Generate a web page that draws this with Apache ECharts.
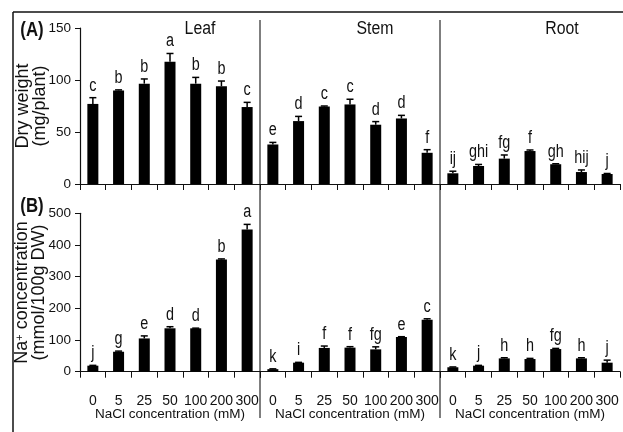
<!DOCTYPE html>
<html><head><meta charset="utf-8">
<script src="https://cdn.jsdelivr.net/npm/echarts@6/dist/echarts.min.js"></script>
<style>html,body{margin:0;padding:0;background:#fff}#c{width:623px;height:432px}</style>
</head><body><div id="c"></div>
<script>
const categories = ['0','5','25','50','100','200','300'];
const organs = ['Leaf','Stem','Root'];

const dwLeaf = [77, 90, 96.5, 117.5, 96.5, 94, 74];
const dwLeafErr = [6, 0.5, 4.5, 8, 6, 5, 4.5];
const dwLeafSig = ['c','b','b','a','b','b','c'];
const dwStem = [38, 60.5, 74.5, 76.5, 57, 63, 30];
const dwStemErr = [2, 4.5, 0.5, 5, 3, 3, 3];
const dwStemSig = ['e','d','c','c','d','d','f'];
const dwRoot = [10.3, 17.3, 24.4, 31.7, 19, 11.5, 9.6];
const dwRootErr = [2, 1.5, 3.5, 1, 0.5, 2, 0.5];
const dwRootSig = ['ij','ghi','fg','f','gh','hij','j'];

const naLeaf = [19, 63, 105, 137, 137, 354, 449];
const naLeafErr = [1, 2, 8, 5, 0.5, 2, 16];
const naLeafSig = ['j','g','e','d','d','b','a'];
const naStem = [8, 28.5, 75, 76, 70.5, 109.5, 164];
const naStemErr = [1, 1, 6, 3, 8, 1, 3];
const naStemSig = ['k','i','f','f','fg','e','c'];
const naRoot = [14, 19, 42, 40, 71.5, 42, 28.5];
const naRootErr = [1, 1, 2, 2, 2, 2, 8];
const naRootSig = ['k','j','h','h','fg','h','j'];

const SANS = '"Liberation Sans", Arial, sans-serif';

const panels = [
  {vals: dwLeaf, err: dwLeafErr, sig: dwLeafSig, row: 0, col: 0},
  {vals: dwStem, err: dwStemErr, sig: dwStemSig, row: 0, col: 1},
  {vals: dwRoot, err: dwRootErr, sig: dwRootSig, row: 0, col: 2},
  {vals: naLeaf, err: naLeafErr, sig: naLeafSig, row: 1, col: 0},
  {vals: naStem, err: naStemErr, sig: naStemSig, row: 1, col: 1},
  {vals: naRoot, err: naRootErr, sig: naRootSig, row: 1, col: 2}
];

const rowGeom = [{top: 28, height: 156, max: 150, interval: 50, gap: 31}, {top: 213.3, height: 158.4, max: 500, interval: 100, gap: 32}];
const colLeft = [80, 260, 440];
const colW = 180;

const grid = [], xAxis = [], yAxis = [], series = [];
panels.forEach((p, k) => {
  const rg = rowGeom[p.row];
  grid.push({left: colLeft[p.col], top: rg.top, width: colW, height: rg.height, containLabel: false});
  xAxis.push({
    type: 'category', gridIndex: k, data: categories,
    axisLine: {lineStyle: {color: '#111', width: 1.2}},
    axisTick: {show: true, length: 6, inside: false, lineStyle: {color: '#111'}},
    axisLabel: {show: p.row === 1, interval: 0, margin: 22, fontSize: 14, fontFamily: SANS, color: '#111'},
    name: p.row === 1 ? 'NaCl concentration (mM)' : '',
    nameLocation: 'middle', nameGap: 36, nameMoveOverlap: false,
    nameTextStyle: {fontSize: 13.5, fontFamily: SANS, color: '#111'}
  });
  const first = p.col === 0;
  yAxis.push({
    type: 'value', gridIndex: k, min: 0, max: rg.max, interval: rg.interval,
    splitLine: {show: false},
    axisLine: {show: first, lineStyle: {color: '#111', width: 1.2}},
    axisTick: {show: first, length: 5, lineStyle: {color: '#111'}},
    axisLabel: {show: first, margin: 9, fontSize: 13.5, fontFamily: SANS, color: '#111'},
    name: first ? (p.row === 0 ? 'Dry weight\n(mg/plant)' : 'Na{sup|+} concentration\n(mmol/100g DW)') : '',
    nameLocation: 'middle', nameRotate: 90, nameGap: rg.gap, nameMoveOverlap: false,
    nameTextStyle: {fontSize: 18, fontFamily: SANS, color: '#111', lineHeight: 17,
      rich: {sup: {fontSize: 11, verticalAlign: 'top', fontFamily: SANS, color: '#111', lineHeight: 17}}}
  });
  series.push({
    type: 'bar', xAxisIndex: k, yAxisIndex: k, data: p.vals, barWidth: 11,
    itemStyle: {color: '#000'}, silent: true
  });
  series.push({
    type: 'custom', xAxisIndex: k, yAxisIndex: k, z: 5, silent: true,
    data: p.vals.map((v, i) => [i, v, p.err[i]]),
    renderItem: (params, api) => {
      const i = api.value(0), v = api.value(1), e = api.value(2);
      const base = api.coord([i, v]);
      const up = api.coord([i, v + e]);
      return {type: 'group', children: [
        {type: 'line', shape: {x1: base[0], y1: base[1], x2: up[0], y2: up[1]}, style: {stroke: '#000', lineWidth: 1.5}},
        {type: 'line', shape: {x1: up[0] - 3.5, y1: up[1], x2: up[0] + 3.5, y2: up[1]}, style: {stroke: '#000', lineWidth: 1.5}},
        {type: 'text', x: up[0], y: up[1] - 3, scaleX: 0.8, style: {text: p.sig[params.dataIndex], textAlign: 'center', textVerticalAlign: 'bottom', fontSize: 18, fontFamily: SANS, fill: '#111'}}
      ]};
    }
  });
});

const titleCenters = [200, 375, 562];
const graphic = [
  {type: 'line', shape: {x1: 13, y1: 12, x2: 623, y2: 12}, style: {stroke: '#111', lineWidth: 1.5}},
  {type: 'line', shape: {x1: 13, y1: 12, x2: 13, y2: 432}, style: {stroke: '#111', lineWidth: 1.5}},
  {type: 'line', shape: {x1: 260, y1: 20, x2: 260, y2: 418}, style: {stroke: '#555', lineWidth: 1.5}},
  {type: 'line', shape: {x1: 440, y1: 20, x2: 440, y2: 418}, style: {stroke: '#555', lineWidth: 1.5}},
  {type: 'text', x: 32, y: 30, scaleX: 0.8, style: {text: '(A)', textAlign: 'center', textVerticalAlign: 'middle', fontSize: 21, fontWeight: 'bold', fontFamily: SANS, fill: '#111'}},
  {type: 'text', x: 32, y: 206, scaleX: 0.8, style: {text: '(B)', textAlign: 'center', textVerticalAlign: 'middle', fontSize: 21, fontWeight: 'bold', fontFamily: SANS, fill: '#111'}}
];
organs.forEach((o, i) => graphic.push({type: 'text', x: titleCenters[i], y: 29, scaleX: 0.88, style: {text: o, textAlign: 'center', textVerticalAlign: 'middle', fontSize: 18, fontFamily: SANS, fill: '#111'}}));

const chart = echarts.init(document.getElementById('c'), null, {renderer: 'canvas'});
chart.setOption({backgroundColor: '#fff', animation: false, grid, xAxis, yAxis, series, graphic});
</script></body></html>
